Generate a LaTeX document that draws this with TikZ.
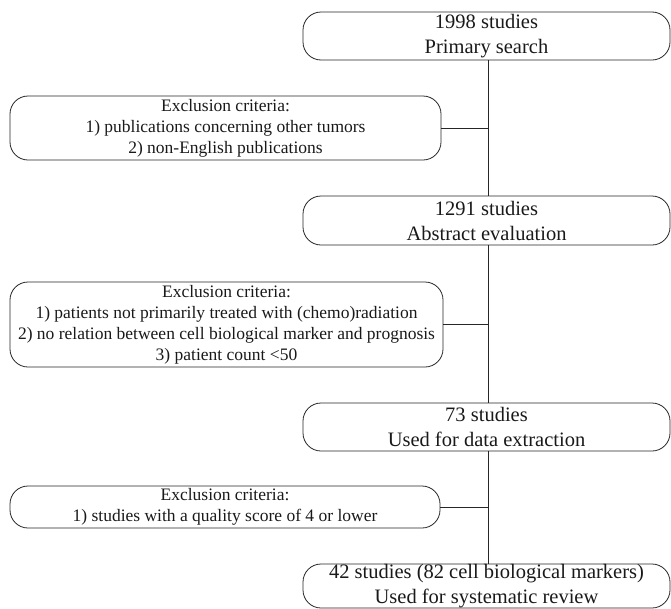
\documentclass[tikz,border=0pt]{standalone}
\usepackage{fontspec}
\setmainfont{Liberation Serif}
\begin{document}
\begin{tikzpicture}[x=1pt,y=-1pt,
  mainbox/.style={draw=black!85, line width=0.8pt, rounded corners=18pt, inner sep=0pt, align=center,
    minimum width=367pt, minimum height=48pt, text=black!90,
    font=\fontsize{20.5}{25}\selectfont},
  exbox/.style={draw=black!85, line width=0.8pt, rounded corners=18pt, inner sep=0pt, align=center,
    text=black!90, font=\fontsize{17.5}{21}\selectfont},
  link/.style={line width=0.8pt, draw=black!85}]
\useasboundingbox (0,0) rectangle (671,608);
\coordinate (spine) at (488,0);
\node[mainbox] (b1) at (486.5,36) {1998 studies\\Primary search};
\node[exbox, minimum width=431pt, minimum height=64pt] (e1) at (225.5,128)
  {Exclusion criteria:\\1) publications concerning other tumors\\2) non-English publications};
\node[mainbox, minimum height=49pt] (b2) at (486.5,220.5) {1291 studies\\Abstract evaluation};
\node[exbox, minimum width=433pt, minimum height=85pt] (e2) at (226.5,324.5)
  {Exclusion criteria:\\1) patients not primarily treated with (chemo)radiation\\2) no relation between cell biological marker and prognosis\\3) patient count <50};
\node[mainbox] (b3) at (486.5,427) {73 studies\\Used for data extraction};
\node[exbox, minimum width=430pt, minimum height=42pt] (e3) at (225,507)
  {Exclusion criteria:\\1) studies with a quality score of 4 or lower};
\node[mainbox, minimum height=44pt] (b4) at (486.5,586) {42 studies (82 cell biological markers)\\Used for systematic review};
\draw[link] (b1.south -| spine) -- (b2.north -| spine);
\draw[link] (b2.south -| spine) -- (b3.north -| spine);
\draw[link] (b3.south -| spine) -- (b4.north -| spine);
\draw[link] (e1.east) -- (e1.east -| spine);
\draw[link] (e2.east) -- (e2.east -| spine);
\draw[link] (e3.east) -- (e3.east -| spine);
\end{tikzpicture}
\end{document}
